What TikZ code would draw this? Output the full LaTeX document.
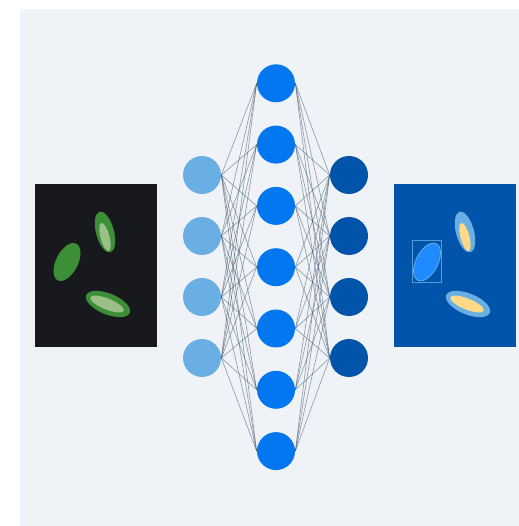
\documentclass[tikz,border=0pt]{standalone}
\usetikzlibrary{positioning}

\definecolor{panel}{HTML}{EFF3F7}
\definecolor{inblue}{HTML}{6AAFE3}
\definecolor{hidblue}{HTML}{0277F0}
\definecolor{outblue}{HTML}{0254AA}
\definecolor{imgdark}{HTML}{18191C}
\definecolor{leafdark}{HTML}{3C8F37}
\definecolor{leaflight}{HTML}{9CBF8A}
\definecolor{maskyellow}{HTML}{FFD985}
\definecolor{maskblue}{HTML}{1F8BFF}
\definecolor{wire}{HTML}{3D4F66}

\tikzset{
  neuron/.style={circle, minimum size=0.76cm, inner sep=0pt},
  wire/.style={draw=wire, line width=0.35pt, opacity=0.55},
}

\begin{document}
\begin{tikzpicture}[x=0.02cm, y=-0.02cm]
  \useasboundingbox (0,0) rectangle (519,526);
  \fill[panel] (20,9) rectangle (519,526);

  % input picture
  \fill[imgdark] (35,184) rectangle (157,347);
  \fill[leafdark, rotate around={105:(105,232)}] (105,232) ellipse [x radius=0.42cm, y radius=0.18cm];
  \fill[leaflight, rotate around={105:(105,237)}] (105,237) ellipse [x radius=0.29cm, y radius=0.09cm];
  \fill[leafdark, rotate around={63:(67,262)}] (67,262) ellipse [x radius=0.41cm, y radius=0.22cm];
  \fill[leafdark, rotate around={-22:(108,304)}] (108,304) ellipse [x radius=0.47cm, y radius=0.21cm];
  \fill[leaflight, rotate around={-22:(107,304)}] (107,304) ellipse [x radius=0.36cm, y radius=0.11cm];

  % output picture
  \fill[outblue] (394,184) rectangle (516,347);
  \fill[inblue, rotate around={105:(465,232)}] (465,232) ellipse [x radius=0.42cm, y radius=0.18cm];
  \fill[maskyellow, rotate around={105:(465,237)}] (465,237) ellipse [x radius=0.29cm, y radius=0.09cm];
  \filldraw[fill=maskblue, draw=inblue, line width=0.4pt, rotate around={63:(427,262)}] (427,262) ellipse [x radius=0.41cm, y radius=0.22cm];
  \draw[inblue, line width=0.4pt, opacity=0.8] (412,240) rectangle (441,282);
  \fill[inblue, rotate around={-22:(468,304)}] (468,304) ellipse [x radius=0.47cm, y radius=0.21cm];
  \fill[maskyellow, rotate around={-22:(467,304)}] (467,304) ellipse [x radius=0.36cm, y radius=0.11cm];

  % layers
  \foreach \i in {1,...,4}
    \node[neuron, fill=inblue] (in\i) at (202,{114+61*\i}) {};
  \foreach \i in {1,...,7}
    \node[neuron, fill=hidblue] (hid\i) at (276,{22+61.3*\i}) {};
  \foreach \i in {1,...,4}
    \node[neuron, fill=outblue] (out\i) at (349,{114+61*\i}) {};

  % connections
  \foreach \i in {1,...,4}
    \foreach \j in {1,...,7} {
      \draw[wire] (in\i.east) -- (hid\j.west);
      \draw[wire] (hid\j.east) -- (out\i.west);
    }
\end{tikzpicture}
\end{document}
